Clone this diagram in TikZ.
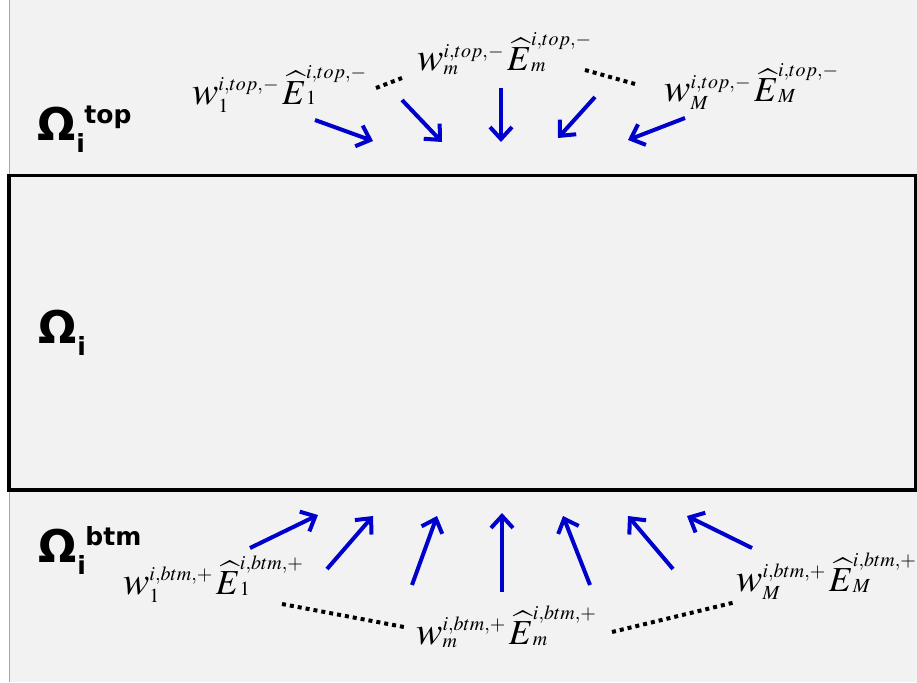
\documentclass[tikz,border=0pt]{standalone}
\usepackage{mathptmx}
\usepackage[no-math]{fontspec}
\setmainfont{Liberation Serif}
\newfontfamily\omfont{DejaVu Sans}
\usepackage{graphicx}
\usetikzlibrary{arrows.meta}
\definecolor{bgc}{HTML}{F2F2F2}
\definecolor{arrblue}{HTML}{0000CC}
\newcommand{\bigw}{\scalebox{1.46}{$w$}}
% #1 superscript, #2 subscript
\newcommand{\wlab}[2]{$\bigw^{#1}_{#2}\,\scalebox{1.3}{$\widehat{E}$}\rlap{\raisebox{-1pt}{$\scriptstyle #2$}}\raisebox{25pt}{$\scriptstyle #1$}$}
% Omega with subscript i and superscript #1
\newcommand{\omlabel}[1]{{\omfont\bfseries\fontsize{45}{45}\selectfont \char"03A9\kern1pt\rlap{\raisebox{-12pt}{\fontsize{25}{25}\selectfont i}}\raisebox{17pt}{\fontsize{25}{25}\selectfont\kern8pt #1}}}
\tikzset{
  lbl/.style={inner sep=0pt, anchor=base west, font=\fontsize{27}{29}\selectfont},
  arr/.style={draw=arrblue, line width=4pt, -{Straight Barb[length=12pt,width=22pt,line width=4pt]}},
  dotline/.style={line width=4pt, dash pattern=on 4pt off 4pt},
  omnode/.style={anchor=base west, inner sep=0pt},
}
\begin{document}
\begin{tikzpicture}[x=1pt,y=-1pt]
\useasboundingbox (0,0) rectangle (917,682);
\fill[bgc] (9,0) rectangle (917,682);
\draw[gray!70, line width=1pt] (9,0) -- (9,682);
% domain
\node (dom) [draw, line width=3.5pt, minimum width=907pt, minimum height=314.5pt, inner sep=0pt] at (462.5,332.75) {};
% Omega labels
\node (omtop) [omnode] at (37,140) {\omlabel{top}};
\node (omi) [omnode] at (38,343) {{\omfont\bfseries\fontsize{45}{45}\selectfont \char"03A9\kern1pt\raisebox{-12pt}{\fontsize{25}{25}\selectfont i}}};
\node (ombtm) [omnode] at (38,562) {\omlabel{btm}};
% top labels
\node (t1) [lbl] at (192,104) {\wlab{i,top,-}{1}};
\node (tm) [lbl] at (417,71) {\wlab{i,top,-}{m}};
\node (tM) [lbl] at (664,102) {\wlab{i,top,-}{M}};
% bottom labels
\node (b1) [lbl] at (123,594) {\wlab{i,btm,+}{1}};
\node (bm) [lbl] at (416,644) {\wlab{i,btm,+}{m}};
\node (bM) [lbl] at (736,591) {\wlab{i,btm,+}{M}};
% dotted lines
\coordinate (d1a) at (376,88); \coordinate (d1b) at (402,78);
\coordinate (d2a) at (585,70); \coordinate (d2b) at (635,84);
\coordinate (d3a) at (282,604); \coordinate (d3b) at (404,627);
\coordinate (d4a) at (612,632); \coordinate (d4b) at (736,602);
\draw[dotline] (d1a) -- (d1b);
\draw[dotline] (d2a) -- (d2b);
\draw[dotline] (d3a) -- (d3b);
\draw[dotline] (d4a) -- (d4b);
% top arrows
\coordinate (ta1) at (315,120); \coordinate (tb1) at (373,141);
\coordinate (ta2) at (402,100); \coordinate (tb2) at (442,142);
\coordinate (ta3) at (501,88);  \coordinate (tb3) at (501,142);
\coordinate (ta4) at (595,97);  \coordinate (tb4) at (558,138);
\coordinate (ta5) at (685,118); \coordinate (tb5) at (628,140);
\foreach \k in {1,...,5} \draw[arr] (ta\k) -- (tb\k);
% bottom arrows
\coordinate (ba1) at (250,548); \coordinate (bb1) at (318,515);
\coordinate (ba2) at (327,569); \coordinate (bb2) at (373,516);
\coordinate (ba3) at (412,585); \coordinate (bb3) at (437,516);
\coordinate (ba4) at (502,592); \coordinate (bb4) at (502,513);
\coordinate (ba5) at (590,585); \coordinate (bb5) at (563,516);
\coordinate (ba6) at (673,569); \coordinate (bb6) at (628,516);
\coordinate (ba7) at (752,548); \coordinate (bb7) at (687,516);
\foreach \k in {1,...,7} \draw[arr] (ba\k) -- (bb\k);
\end{tikzpicture}
\end{document}
